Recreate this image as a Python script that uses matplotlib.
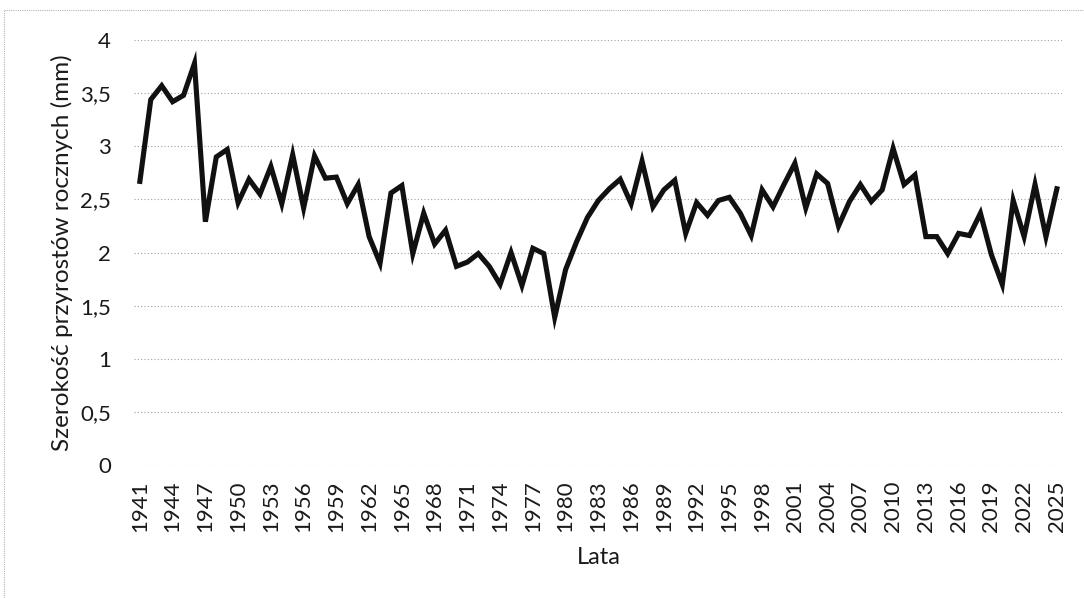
import numpy as np
import matplotlib.pyplot as plt
from matplotlib.lines import Line2D

years = list(range(1941, 2026))
widths = [2.67, 3.44, 3.57, 3.42, 3.48, 3.78, 2.29, 2.90, 2.97, 2.47,
          2.69, 2.55, 2.81, 2.46, 2.92, 2.42, 2.91, 2.70, 2.71, 2.46,
          2.64, 2.15, 1.90, 2.56, 2.63, 1.99, 2.37, 2.08, 2.21, 1.87,
          1.91, 1.99, 1.87, 1.70, 2.00, 1.69, 2.04, 1.99, 1.39, 1.84,
          2.10, 2.33, 2.49, 2.60, 2.69, 2.46, 2.86, 2.43, 2.59, 2.68,
          2.18, 2.47, 2.35, 2.49, 2.52, 2.37, 2.16, 2.59, 2.43, 2.64,
          2.84, 2.42, 2.74, 2.65, 2.25, 2.48, 2.64, 2.48, 2.59, 2.98,
          2.64, 2.73, 2.15, 2.15, 1.99, 2.18, 2.16, 2.37, 1.98, 1.70,
          2.49, 2.15, 2.64, 2.15, 2.60]
y_ticks = [0, 0.5, 1, 1.5, 2, 2.5, 3, 3.5, 4]

plt.rcParams['font.family'] = ['Lato', 'DejaVu Sans']

fig = plt.figure(figsize=(10.84, 5.98), dpi=100)
ax = fig.add_axes([0.124, 0.2224, 0.856, 0.7106])

x = np.arange(len(years))
ax.plot(x, widths, color='#111111', linewidth=3.7, solid_joinstyle='miter')

ax.set_xlim(-0.5, len(years) - 0.5)
ax.set_ylim(0, 4)
ax.set_yticks(y_ticks)
ax.set_yticklabels([f'{v:g}'.replace('.', ',') for v in y_ticks])
ax.set_xticks(x[::3])
ax.set_xticklabels([str(y) for y in years[::3]], rotation=90)
ax.tick_params(length=0, labelsize=16, colors='#1a1a1a')
ax.tick_params(axis='x', pad=11)
ax.tick_params(axis='y', pad=17)

ax.grid(axis='y', linestyle=(0, (1, 2)), color='#a0a0a0', linewidth=0.8)
ax.set_axisbelow(True)
for s in ax.spines.values():
    s.set_visible(False)

ax.set_ylabel('Szerokość przyrostów rocznych (mm)', fontsize=17.5, color='#1a1a1a', labelpad=5)
ax.set_xlabel('Lata', fontsize=17, color='#1a1a1a', labelpad=11)

# faint chart border (top and left edges visible in the scan)
border = dict(transform=fig.transFigure, color='#b5b5b5', linewidth=0.8, linestyle=(0, (1, 1)))
fig.lines.append(Line2D([0.004, 1.0], [0.983, 0.983], **border))
fig.lines.append(Line2D([0.004, 0.004], [0.0, 0.983], **border))

fig.savefig('out.png', dpi=100)
